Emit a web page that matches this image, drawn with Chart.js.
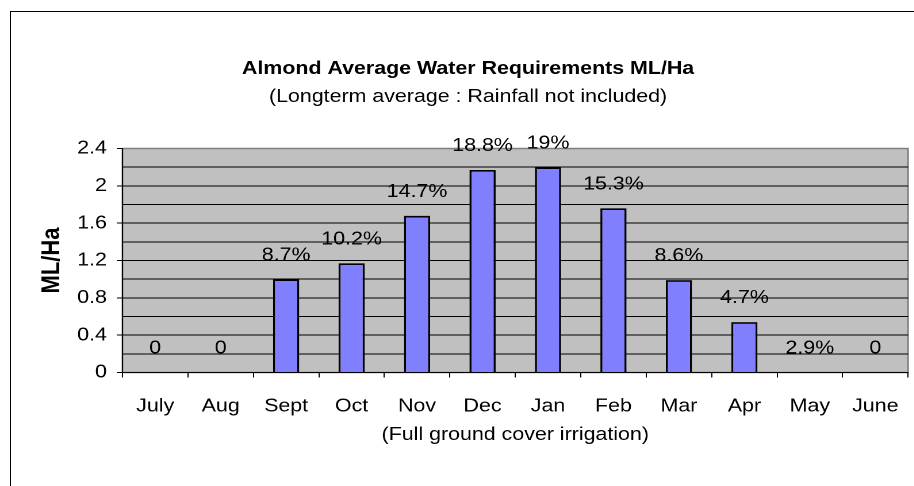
<!DOCTYPE html>
<html>
<head>
<meta charset="utf-8">
<script src="https://cdn.jsdelivr.net/npm/chart.js@4"></script>
<style>
    html, body { margin: 0; padding: 0; background: #ffffff; overflow: hidden; }
    body { width: 914px; height: 486px; position: relative; }
    /* marco del gráfico (solo izquierda y arriba caen dentro de la imagen) */
    #marco {
        position: absolute; left: 10px; top: 11px; width: 1000px; height: 1000px;
        border-left: 1px solid #000; border-top: 1px solid #000;
    }
    /* el original está estirado en horizontal */
    #lienzo {
        position: absolute; left: 0; top: 0; width: 800px; height: 486px;
        transform: scaleX(1.15); transform-origin: 0 0;
    }
</style>
</head>
<body>
<div id="marco"></div>
<div id="lienzo"><canvas id="graficaAlmendra" width="800" height="486"></canvas></div>
<script>
// Datos
const meses = ["July", "Aug", "Sept", "Oct", "Nov", "Dec", "Jan", "Feb", "Mar", "Apr", "May", "June"];
const aguaMLHa = [0, 0, 1.0, 1.17, 1.68, 2.17, 2.2, 1.76, 0.99, 0.54, 0, 0];
const porcentajes = ["0", "0", "8.7%", "10.2%", "14.7%", "18.8%", "19%", "15.3%", "8.6%", "4.7%", "2.9%", "0"];

const fuente = '"Liberation Sans", Arial, sans-serif';
const tam = 18.6;

// Fondo gris del área de trazado con borde gris oscuro
const fondoArea = {
    id: "fondoArea",
    beforeDraw(chart) {
        const { ctx, chartArea: a } = chart;
        ctx.save();
        ctx.fillStyle = "#c0c0c0";
        ctx.fillRect(a.left, a.top, a.width, a.height);
        ctx.strokeStyle = "#808080";
        ctx.lineWidth = 1.5;
        ctx.strokeRect(a.left, a.top, a.width, a.height);
        ctx.restore();
    },
};

// Etiquetas de porcentaje encima de cada barra
const etiquetasBarras = {
    id: "etiquetasBarras",
    afterDatasetsDraw(chart) {
        const { ctx } = chart;
        const barras = chart.getDatasetMeta(0).data;
        ctx.save();
        ctx.font = tam + "px " + fuente;
        ctx.fillStyle = "#000";
        ctx.textAlign = "center";
        ctx.textBaseline = "middle";
        barras.forEach(function (barra, i) {
            ctx.fillText(porcentajes[i], barra.x, barra.y - 24);
        });
        ctx.restore();
    },
};

const ctx = document.getElementById("graficaAlmendra").getContext("2d");

window.chartAlmendra = new Chart(ctx, {
    type: "bar",
    data: {
        labels: meses,
        datasets: [
            {
                data: aguaMLHa,
                backgroundColor: "#8080ff",
                borderColor: "#000000",
                borderWidth: 1.8,
                barPercentage: 0.8,
                categoryPercentage: 0.5,
            },
        ],
    },
    options: {
        responsive: false,
        animation: false,
        devicePixelRatio: 2,
        layout: { padding: { top: 0, left: 24.4, right: 10.4, bottom: 39.86 } },
        plugins: {
            legend: { display: false },
            tooltip: { enabled: false },
            title: {
                display: true,
                text: "Almond Average Water Requirements ML/Ha",
                color: "#000",
                font: { family: fuente, size: tam, weight: "bold" },
                padding: { top: 57.84, bottom: 0 },
            },
            subtitle: {
                display: true,
                text: "(Longterm average : Rainfall not included)",
                color: "#000",
                font: { family: fuente, size: tam, weight: "normal" },
                padding: { top: 5.68, bottom: 40.34 },
            },
        },
        scales: {
            x: {
                afterFit: function (escala) {
                    escala.height = 73.64;
                },
                grid: {
                    drawOnChartArea: false,
                    drawTicks: true,
                    tickLength: 5,
                    color: "#000",
                },
                border: { display: true, color: "#000", width: 1 },
                ticks: {
                    color: "#000",
                    padding: 17.5,
                    maxRotation: 0,
                    autoSkip: false,
                    font: { family: fuente, size: tam },
                },
                title: {
                    display: true,
                    text: "(Full ground cover irrigation)",
                    color: "#000",
                    font: { family: fuente, size: tam },
                    padding: { top: 6.5, bottom: 0 },
                },
            },
            y: {
                min: 0,
                max: 2.4,
                afterFit: function (escala) {
                    escala.width = 82.1;
                },
                grid: {
                    color: (c) => (c.index === 12 ? "#808080" : "#000"),
                    tickColor: (c) => (c.index % 2 === 0 ? "#000" : "rgba(0,0,0,0)"),
                    tickLength: 5,
                    lineWidth: 1,
                },
                border: { display: true, color: "#000", width: 1 },
                ticks: {
                    stepSize: 0.2,
                    maxTicksLimit: 20,
                    autoSkip: false,
                    color: "#000",
                    padding: 8.5,
                    font: { family: fuente, size: tam },
                    callback: (valor, i) => (i % 2 === 0 ? String(Number(valor.toFixed(1))) : ""),
                },
                title: {
                    display: true,
                    text: "ML/Ha",
                    color: "#000",
                    font: { family: fuente, size: 22, weight: "bold" },
                    padding: { top: 8, bottom: 0 },
                },
            },
        },
    },
    plugins: [fondoArea, etiquetasBarras],
});
</script>
</body>
</html>
